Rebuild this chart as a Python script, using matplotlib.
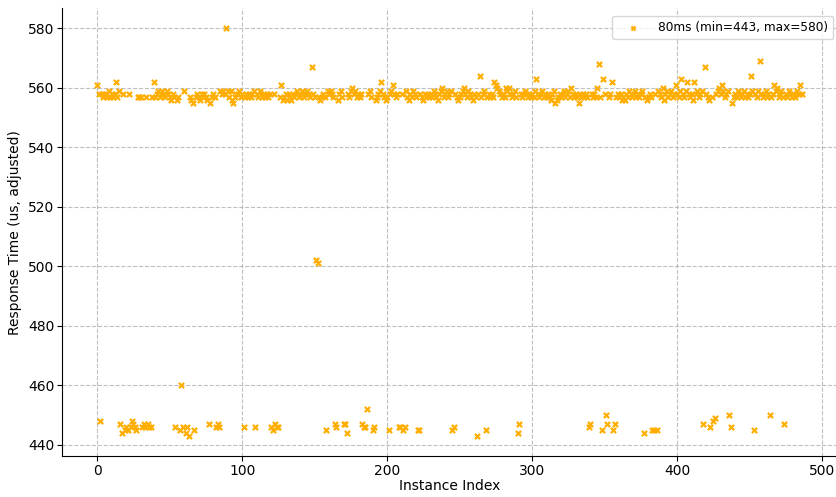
import numpy as np
import matplotlib
matplotlib.use("Agg")
import matplotlib.pyplot as plt

# Response times (us, adjusted) for each instance, in index order
response_us = [
    561, 558, 448, 558, 557, 558, 558, 557, 559, 557,
    558, 557, 558, 562, 557, 559, 447, 444, 558, 445,
    446, 445, 558, 446, 448, 447, 446, 445, 557, 557,
    557, 446, 447, 446, 557, 447, 446, 446, 557, 562,
    557, 558, 559, 557, 558, 559, 558, 557, 559, 558,
    557, 556, 558, 557, 446, 556, 557, 445, 460, 446,
    559, 444, 446, 443, 557, 556, 555, 445, 557, 558,
    557, 556, 558, 557, 558, 557, 556, 447, 555, 557,
    558, 557, 446, 447, 446, 559, 558, 559, 558, 580,
    559, 557, 559, 556, 555, 557, 558, 558, 559, 557,
    558, 446, 557, 558, 557, 558, 557, 558, 559, 446,
    558, 557, 559, 558, 557, 558, 557, 558, 557, 558,
    446, 445, 558, 447, 446, 446, 557, 561, 556, 557,
    558, 556, 558, 557, 556, 558, 557, 558, 559, 557,
    558, 559, 558, 557, 558, 559, 558, 557, 567, 558,
    557, 502, 501, 557, 556, 557, 558, 557, 445, 559,
    558, 559, 558, 557, 447, 446, 556, 558, 559, 557,
    447, 447, 444, 558, 557, 559, 560, 558, 559, 557,
    558, 557, 558, 447, 446, 446, 452, 558, 559, 557,
    445, 446, 556, 557, 558, 559, 562, 558, 557, 556,
    557, 445, 558, 559, 561, 558, 557, 558, 446, 446,
    558, 445, 446, 559, 557, 556, 558, 557, 559, 558,
    557, 445, 445, 558, 557, 556, 558, 557, 558, 557,
    558, 557, 559, 558, 557, 556, 558, 559, 560, 557,
    558, 559, 557, 558, 559, 445, 446, 558, 557, 556,
    557, 558, 559, 560, 558, 557, 559, 558, 557, 556,
    558, 557, 443, 558, 564, 557, 558, 559, 445, 557,
    558, 557, 558, 557, 562, 561, 560, 559, 558, 557,
    558, 557, 560, 559, 560, 558, 557, 558, 559, 557,
    444, 447, 558, 557, 558, 559, 558, 557, 558, 557,
    558, 557, 559, 563, 558, 557, 558, 559, 557, 558,
    557, 558, 557, 556, 558, 559, 555, 556, 557, 558,
    557, 558, 559, 557, 558, 559, 557, 560, 558, 557,
    558, 557, 555, 558, 557, 558, 557, 558, 557, 446,
    447, 558, 557, 558, 557, 560, 568, 557, 445, 563,
    558, 450, 447, 557, 558, 562, 445, 447, 557, 558,
    557, 558, 556, 557, 556, 558, 557, 559, 558, 557,
    558, 559, 557, 558, 557, 558, 559, 444, 557, 556,
    557, 558, 557, 445, 445, 558, 445, 559, 558, 557,
    560, 556, 558, 559, 557, 558, 559, 557, 558, 561,
    558, 557, 559, 563, 558, 557, 559, 562, 558, 557,
    558, 556, 562, 558, 559, 557, 558, 559, 447, 567,
    558, 557, 556, 446, 557, 448, 449, 558, 559, 560,
    558, 561, 559, 557, 558, 559, 450, 446, 555, 557,
    558, 557, 559, 558, 557, 558, 559, 557, 558, 557,
    558, 564, 559, 445, 558, 557, 559, 569, 558, 557,
    558, 559, 557, 558, 450, 557, 558, 561, 559, 560,
    557, 558, 559, 557, 447, 558, 557, 559, 558, 557,
    558, 557, 558, 559, 558, 561, 558,
]
series_name = "80ms"

instance_index = np.arange(len(response_us))
values = np.array(response_us)

fig = plt.figure(figsize=(8.37, 4.97), dpi=100)
ax = fig.add_axes([0.074, 0.082, 0.926, 0.902])

label = f"{series_name} (min={values.min()}, max={values.max()})"
ax.scatter(instance_index, values, marker="x", s=14, linewidths=1.6,
           color="#ffae00", label=label, zorder=3)

ax.grid(True, linestyle="--", color="#b0b0b0", linewidth=0.8, alpha=0.8)
ax.set_axisbelow(True)
for side in ("top", "right"):
    ax.spines[side].set_visible(False)

ax.set_xlabel("Instance Index", fontsize=10, labelpad=1)
ax.set_ylabel("Response Time (us, adjusted)", fontsize=10, labelpad=4)
ax.tick_params(labelsize=10, pad=2)

ax.legend(loc="upper right", fontsize=8.7, markerscale=0.8, handlelength=2.6,
          bbox_to_anchor=(1.0, 0.99), borderaxespad=0.3)

fig.savefig("out.png", dpi=100)
